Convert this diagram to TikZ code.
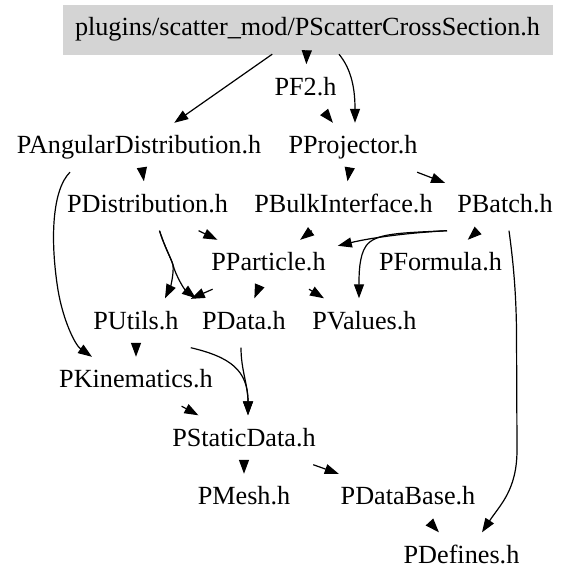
\documentclass[tikz,border=0pt]{standalone}
\usepackage{fontspec}
\setmainfont{Liberation Serif}
\usetikzlibrary{arrows.meta}
\tikzset{
  hnode/.style={inner xsep=12pt, inner ysep=0pt, text height=30.5pt, text depth=18.5pt,
    anchor=base, font=\fontsize{26.2pt}{30pt}\selectfont},
  topbox/.style={hnode, fill=black!17, draw=black!17},
  edge/.style={draw=black, line width=1.2pt, -{Triangle[length=14pt,width=10pt]}}
}
\begin{document}
\begin{tikzpicture}[x=1pt,y=-1pt]
\useasboundingbox (0,0) rectangle (571,587);
\node[topbox] (T) at (307.5,35.5) {plugins/scatter\_mod/PScatterCrossSection.h};
\node[hnode] (pf2) at (305.5,95) {PF2.h};
\node[hnode] (ang) at (139,153.5) {PAngularDistribution.h};
\node[hnode] (proj) at (353,153.5) {PProjector.h};
\node[hnode] (dist) at (147.5,212) {PDistribution.h};
\node[hnode] (bulk) at (343.5,212) {PBulkInterface.h};
\node[hnode] (batch) at (505,212) {PBatch.h};
\node[hnode] (part) at (268.5,270.5) {PParticle.h};
\node[hnode] (form) at (440.5,270.5) {PFormula.h};
\node[hnode] (utils) at (136,329) {PUtils.h};
\node[hnode] (data) at (244,329) {PData.h};
\node[hnode] (values) at (364.5,329) {PValues.h};
\node[hnode] (kin) at (136,387.5) {PKinematics.h};
\node[hnode] (static) at (244,446) {PStaticData.h};
\node[hnode] (mesh) at (244,504.5) {PMesh.h};
\node[hnode] (dbase) at (408,504.5) {PDataBase.h};
\node[hnode] (defs) at (461.5,563) {PDefines.h};

% straight edges
\draw[edge] (T) -- (ang);
\draw[edge] (T) -- (pf2);
\draw[edge] (pf2) -- (proj);
\draw[edge] (ang) -- (dist);
\draw[edge] (proj) -- (bulk);
\draw[edge] (proj) -- (batch);
\draw[edge] (dist) -- (part);
\draw[edge] (bulk) -- (part);
\draw[edge] (batch) -- (form);
\draw[edge] (part) -- (utils);
\draw[edge] (part) -- (data);
\draw[edge] (part) -- (values);
\draw[edge] (utils) -- (kin);
\draw[edge] (kin) -- (static);
\draw[edge] (static) -- (mesh);
\draw[edge] (static) -- (dbase);
\draw[edge] (dbase) -- (defs);

% curved edges
\draw[edge] ([xshift=31.5pt]T.south) .. controls (352,70) and (355,90) .. ([xshift=2pt]proj.north);
\draw[edge] ([xshift=-69pt]ang.south) .. controls (52,190) and (50,240) .. (58,290)
   .. controls (63,320) and (75,345) .. ([xshift=-44pt]kin.north);
\draw[edge] ([xshift=12pt]dist.south) .. controls (165,248) and (171,258) .. (173,265)
   .. controls (174,275) and (170,288) .. ([xshift=29pt]utils.north);
\draw[edge] ([xshift=12pt]dist.south) .. controls (165,248) and (171,258) .. (173,265)
   .. controls (176,276) and (184,289) .. ([xshift=6pt]data.north west);
\draw[edge] ([xshift=-58pt]batch.south) .. controls (405,233) and (370,238) .. ([yshift=-6pt]part.north east);
\draw[edge] ([xshift=-58pt]batch.south) .. controls (400,233) and (375,233) .. (366,246)
   .. controls (359,256) and (359,275) .. ([xshift=-5.5pt]values.north);
\draw[edge] ([xshift=4pt]batch.south) .. controls (513,260) and (516,290) .. (516.5,330)
   -- (517,450) .. controls (517,490) and (500,505) .. ([xshift=20.5pt]defs.north);
\draw[edge] (utils.south east) .. controls (230,357) and (248,370) .. ([xshift=4pt]static.north);
\draw[edge] ([xshift=-3pt]data.south) .. controls (241,370) and (248,385) .. ([xshift=4pt]static.north);
\end{tikzpicture}
\end{document}
